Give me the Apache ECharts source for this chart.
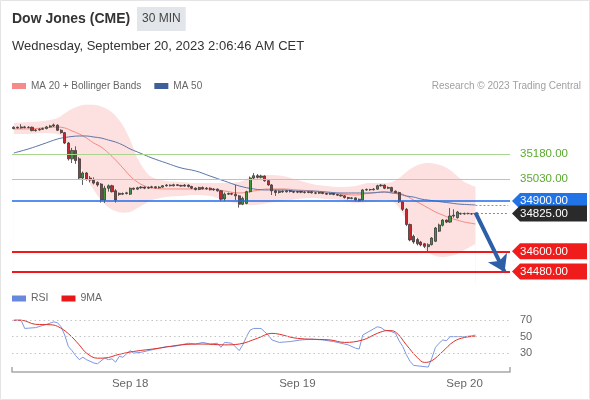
<!DOCTYPE html>
<html><head><meta charset="utf-8">
<script src="https://cdn.jsdelivr.net/npm/echarts@6/dist/echarts.min.js"></script>
<style>html,body{margin:0;padding:0;background:#fff}#c{width:590px;height:400px}</style>
</head><body><div id="c"></div>
<script>
// ---------- DATA ----------
const slotCount = 137;
const tickIndex = [32, 78, 124];
const tickLabels = ['Sep 18', 'Sep 19', 'Sep 20'];

// 30-minute candles: [open, close, low, high]
const candles = [
[35330,35338,35326,35344],[35338,35334,35330,35342],[35334,35340,35330,35356],[35340,35336,35332,35346],
[35336,35338,35332,35344],[35338,35318,35314,35342],[35318,35322,35312,35328],[35322,35326,35318,35332],
[35326,35330,35322,35336],[35330,35340,35326,35346],[35340,35346,35336,35352],[35346,35352,35340,35360],
[35350,35320,35316,35356],[35320,35306,35300,35326],[35306,35244,35238,35310],[35244,35150,35140,35250],
[35150,35200,35125,35215],[35200,35140,35120,35225],[35150,35036,35030,35160],[35036,35066,34995,35075],
[35066,35030,35020,35072],[35036,35024,35010,35048],[35024,35006,34998,35040],[35010,34995,34985,35016],
[35000,34905,34890,35006],[34905,34975,34888,34990],[34975,34990,34955,34998],[34990,34955,34950,34996],
[34960,34905,34890,34970],[34945,34938,34930,34950],[34940,34944,34935,34950],[34944,34948,34938,34954],
[34940,34975,34935,34980],[34975,34970,34964,34980],[34970,34978,34966,34984],[34978,34982,34972,34988],
[34982,34976,34970,34986],[34976,34980,34972,34986],[34980,34984,34975,34990],[34984,34978,34974,34988],
[34978,34982,34974,34988],[34982,34990,34978,34994],[34990,34994,34985,35000],[34994,34990,34986,34998],
[34990,34996,34986,35002],[34996,34992,34988,35000],[34992,34988,34984,34996],[34988,34994,34984,35000],
[34994,34986,34980,34998],[34986,34976,34970,34990],[34976,34968,34962,34980],[34968,34980,34964,34984],
[34980,34972,34968,34986],[34972,34976,34966,34982],[34976,34966,34962,34980],[34966,34970,34960,34976],
[34970,34960,34955,34974],[34960,34910,34900,34964],[34912,34940,34900,34950],[34940,34944,34935,34950],
[34944,34940,34934,34948],[34940,34930,34905,34995],[34930,34880,34860,34935],[34880,34915,34875,34925],
[34885,34955,34880,34960],[34955,35036,34950,35045],[35036,35050,35030,35066],[35050,35040,35034,35060],
[35040,35048,35034,35056],[35048,35020,35014,35052],[35020,34995,34990,35024],[34995,34960,34935,35000],
[34960,34950,34930,34966],[34950,34958,34944,34962],[34958,34954,34948,34962],[34954,34960,34950,34964],
[34960,34956,34950,34964],[34956,34952,34946,34960],[34952,34956,34946,34960],[34956,34952,34946,34960],
[34952,34950,34944,34958],[34950,34954,34946,34958],[34954,34948,34944,34958],[34948,34946,34940,34952],
[34946,34950,34942,34954],[34950,34944,34940,34954],[34944,34940,34935,34948],[34940,34944,34936,34948],
[34944,34938,34934,34948],[34938,34934,34930,34942],[34934,34930,34925,34938],[34930,34920,34914,34934],
[34920,34915,34908,34924],[34915,34918,34910,34922],[34918,34905,34898,34922],[34910,34900,34894,34914],
[34905,34965,34900,34970],[34965,34968,34960,34974],[34968,34966,34960,34972],[34966,34970,34962,34976],
[34970,34990,34966,34996],[34990,34994,34985,35000],[34994,34975,34970,34998],[34975,34980,34970,34986],
[34980,34958,34952,34984],[34958,34950,34946,34962],[34950,34895,34888,34955],[34895,34850,34840,34900],
[34850,34760,34750,34858],[34760,34668,34660,34765],[34690,34656,34645,34700],[34670,34645,34635,34680],
[34655,34638,34630,34662],[34645,34630,34620,34650],[34628,34640,34596,34648],[34640,34679,34635,34685],
[34660,34739,34655,34745],[34720,34757,34715,34765],[34755,34786,34748,34792],[34786,34774,34768,34790],
[34774,34810,34770,34858],[34810,34815,34800,34850],[34800,34834,34795,34840],[34826,34822,34818,34830],
[34822,34826,34818,34830],[34826,34824,34820,34830],[34824,34822,34818,34828],[34822,34825,34818,34830]
];

// Indicator readings (candle index -> value)
const bandIdx = [0,4,8,12,14,16,18,20,22,24,26,28,30,32,34,36,38,42,46,50,54,58,62,66,70,74,78,82,86,90,94,98,102,104,106,108,110,112,114,116,118,120,122,124,127];
const bbUpper = [35363,35369,35375,35393,35420,35446,35464,35472,35472,35462,35442,35405,35348,35262,35155,35084,35042,35018,35012,35006,35006,35006,35012,35048,35054,35048,35024,35001,34989,34983,34989,35006,35006,35012,35036,35072,35102,35119,35125,35119,35108,35084,35048,35012,34983];
const ma20 = [35328,35328,35334,35339,35334,35316,35298,35274,35244,35221,35185,35143,35096,35048,35012,34989,34977,34971,34971,34971,34971,34959,34947,34959,34971,34971,34965,34959,34947,34941,34935,34947,34953,34953,34947,34929,34905,34882,34858,34834,34816,34798,34786,34774,34763];
const bbLower = [35298,35298,35304,35298,35262,35191,35113,35036,34965,34905,34862,34840,34830,34834,34858,34882,34905,34923,34929,34935,34929,34905,34882,34876,34888,34899,34911,34917,34911,34905,34888,34893,34905,34899,34858,34786,34709,34644,34596,34572,34566,34572,34584,34608,34644];
const ma50 = [35185,35209,35238,35268,35277,35283,35286,35286,35280,35274,35262,35250,35232,35209,35191,35173,35155,35125,35096,35078,35048,35018,34989,34971,34965,34965,34959,34959,34953,34947,34947,34947,34953,34947,34941,34929,34923,34911,34905,34899,34893,34888,34882,34879,34876];

const rsiIdx = [0,2,3,6,9,11,12,13,14,15,16,17,18,19,20,22,23,25,26,27,28,29,30,32,33,35,38,40,42,44,46,48,50,52,54,56,57,58,60,62,63,64,65,66,68,69,70,71,73,76,79,82,85,88,90,92,94,95,96,98,100,101,102,104,105,106,107,108,109,110,112,114,115,116,117,118,119,120,122,124,126,127];
const rsiVal = [70,70,60,61,65,68,67,62,52,38,33,27,22,25,22,18,17,24,22,23,19,26,25,33,30,31,34,36,38,38,40,42,41,43,41,42,37,43,42,33,40,50,58,60,60,56,52,46,43,44,46,47,46,44,42,40,36,35,52,57,62,61,58,56,54,45,38,28,20,15,14,13,24,37,42,46,45,50,50,50,51,52];
const rsiMaIdx = [0,2,6,10,12,15,18,20,23,25,29,33,40,46,52,58,62,67,71,73,77,81,87,91,96,100,103,105,108,111,113,115,118,121,124,127];
const rsiMaVal = [70,70,65,64.5,62.6,53.7,40,30,23.8,24,28.5,32,36,40,41,40,41,48,54,53,48.6,47,46,43,46,54,57.5,55.6,40,24.6,18.7,20.7,32,44,49,50.5];
const rsiLevels = [30, 50, 70];

// Key price levels and forecast arrow
const levelPrices = [35180, 35030, 34900, 34825, 34600, 34480];
const levelKinds = ['green', 'green', 'blue', 'dark', 'red', 'red'];
const arrowFrom = [127.4, 34830];
const arrowTo = [134.6, 34478];

// ---------- CHART ----------
const FONT = '"Liberation Sans", Arial, Helvetica, sans-serif';
const chart = echarts.init(document.getElementById('c'), null, {renderer: 'canvas', width: 590, height: 400});
const categories = Array.from({length: slotCount}, (_, i) => String(i));
const pairs = (idx, vals) => idx.map((k, j) => [k, vals[j]]);
const lastIdx = candles.length - 1;
const lastMa50 = ma50[ma50.length - 1];

const kindStyle = {
  green: {line: '#abd48f', width: 1, tag: 'transparent', text: '#5caa30'},
  blue:  {line: '#1f6be8', width: 1.5, tag: '#2173e6', text: '#ffffff'},
  dark:  {line: null, width: 1, tag: '#2a2a2a', text: '#ffffff'},
  red:   {line: '#f01818', width: 2, tag: '#f01c1c', text: '#ffffff'}
};
const tagPath = 'path://M0,8 L8,0 L75,0 L75,16 L8,16 Z';

const levelLines = [];
const levelTags = [];
levelPrices.forEach((p, i) => {
  const s = kindStyle[levelKinds[i]];
  if (s.line) {
    levelLines.push([
      {coord: [0, p], x: 12, lineStyle: {color: s.line, width: s.width, type: 'solid'}},
      {coord: [slotCount - 1, p], x: 510}
    ]);
  } else {
    levelLines.push([{coord: [lastIdx - 4, p], lineStyle: {color: '#8a8a8a', width: 1, type: [2, 2]}}, {coord: [slotCount - 1, p]}]);
  }
  levelTags.push({
    coord: [0, p], x: 549.5, symbol: tagPath, symbolSize: [75, 16], symbolKeepAspect: false,
    itemStyle: {color: s.tag},
    label: {show: true, position: 'insideLeft', distance: 8, color: s.text, fontSize: 11.5, fontFamily: FONT, formatter: p.toFixed(2)}
  });
});
levelLines.push([{coord: [lastIdx, lastMa50], lineStyle: {color: '#8896b8', width: 1, type: [2, 2]}}, {coord: [slotCount - 1, lastMa50]}]);
levelLines.push([{coord: arrowFrom, symbol: 'none', lineStyle: {color: '#2d5ea8', width: 4, type: 'solid'}}, {coord: arrowTo, symbol: 'arrow', symbolSize: 16}]);

const option = {
  animation: false,
  backgroundColor: '#ffffff',
  textStyle: {fontFamily: FONT},
  graphic: [
    {type: 'rect', shape: {x: 0.5, y: 0.5, width: 589, height: 399}, style: {fill: 'none', stroke: '#e4e4e4', lineWidth: 1}, z: 100}
  ],
  title: [
    {text: 'Dow Jones (CME)', left: 12, top: 12, padding: 0, textStyle: {fontSize: 14, fontWeight: 'bold', color: '#333', fontFamily: FONT}},
    {text: '30 MIN', left: 137, top: 7, padding: [6, 5], backgroundColor: '#e2e5e9', textStyle: {fontSize: 12, fontWeight: 'normal', color: '#444', fontFamily: FONT}},
    {text: 'Wednesday, September 20, 2023 2:06:46 AM CET', left: 12, top: 40, padding: 0, textStyle: {fontSize: 13, fontWeight: 'normal', color: '#333', fontFamily: FONT}},
    {text: 'Research \u00a9 2023 Trading Central', right: 9, top: 81, padding: 0, textStyle: {fontSize: 10, fontWeight: 'normal', color: '#a0a0a0', fontFamily: FONT}}
  ],
  legend: [
    {data: ['MA 20 + Bollinger Bands', 'MA 50'], left: 12, top: 81, padding: 0, icon: 'rect', itemWidth: 14, itemHeight: 6, itemGap: 13, textStyle: {fontSize: 10, color: '#666', fontFamily: FONT}},
    {data: ['RSI', '9MA'], left: 12, top: 293, padding: 0, icon: 'rect', itemWidth: 14, itemHeight: 6, itemGap: 13, textStyle: {fontSize: 10.5, color: '#666', fontFamily: FONT}}
  ],
  grid: [
    {left: 12, right: 80, top: 100, height: 185},
    {left: 12, right: 80, top: 312, height: 60}
  ],
  xAxis: [
    {type: 'category', gridIndex: 0, data: categories, boundaryGap: true, show: false},
    {type: 'category', gridIndex: 1, data: categories, boundaryGap: true,
     axisLine: {show: true, lineStyle: {color: '#a8a8a8', width: 1.5}},
     axisTick: {show: true, inside: true, length: 5, interval: (i) => i === 0, lineStyle: {color: '#a8a8a8', width: 1.5}},
     axisLabel: {show: true, color: '#666', fontSize: 11.5, margin: 6, fontFamily: FONT,
       interval: (i) => tickIndex.includes(i),
       formatter: (v, i) => { const k = tickIndex.indexOf(Number(v)); return k >= 0 ? tickLabels[k] : ''; }},
     splitLine: {show: false}}
  ],
  yAxis: [
    {type: 'value', gridIndex: 0, min: 34400, max: 35500, show: false, splitLine: {show: false}},
    {type: 'value', gridIndex: 1, min: 7, max: 80, position: 'right',
     axisLine: {show: false}, axisTick: {show: false}, splitLine: {show: false},
     axisLabel: {show: true, customValues: rsiLevels, color: '#666', fontSize: 11, margin: 10, fontFamily: FONT}}
  ],
  series: [
    {name: 'bbUpper', type: 'line', xAxisIndex: 0, yAxisIndex: 0, data: pairs(bandIdx, bbUpper), smooth: 0.4, symbol: 'none',
     lineStyle: {width: 0}, areaStyle: {color: '#fde0e0', opacity: 1, origin: 'start'}, z: 1, silent: true},
    {name: 'bbLower', type: 'line', xAxisIndex: 0, yAxisIndex: 0, data: pairs(bandIdx, bbLower), smooth: 0.4, symbol: 'none',
     lineStyle: {width: 0}, areaStyle: {color: '#ffffff', opacity: 1, origin: 'start'}, z: 1, silent: true},
    {name: 'MA 20 + Bollinger Bands', type: 'line', xAxisIndex: 0, yAxisIndex: 0, data: pairs(bandIdx, ma20), smooth: 0.4, symbol: 'none',
     color: '#f48a8a', lineStyle: {color: '#f28b82', width: 1}, z: 2},
    {name: 'MA 50', type: 'line', xAxisIndex: 0, yAxisIndex: 0, data: pairs(bandIdx, ma50), smooth: 0.4, symbol: 'none',
     color: '#3f5f9a', lineStyle: {color: '#5a76aa', width: 1}, z: 2},
    {name: 'price', type: 'candlestick', xAxisIndex: 0, yAxisIndex: 0, data: candles, barWidth: 2.6, z: 3,
     itemStyle: {color: '#3f963a', color0: '#c8262c', borderColor: '#3a3a3a', borderColor0: '#3a3a3a', borderWidth: 0.8},
     markLine: {silent: true, symbol: 'none', z: 5, label: {show: false}, data: levelLines},
     markPoint: {silent: true, z: 6, data: levelTags}},
    {name: 'RSI', type: 'line', xAxisIndex: 1, yAxisIndex: 1, data: pairs(rsiIdx, rsiVal), symbol: 'none',
     color: '#6688dd', lineStyle: {color: '#7d98e4', width: 1}, z: 3,
     markLine: {silent: true, symbol: 'none', label: {show: false}, lineStyle: {color: '#c4c4c4', width: 1, type: [1.5, 3]},
       data: rsiLevels.map(v => ({yAxis: v}))}},
    {name: '9MA', type: 'line', xAxisIndex: 1, yAxisIndex: 1, data: pairs(rsiMaIdx, rsiMaVal), smooth: 0.4, symbol: 'none',
     color: '#e81818', lineStyle: {color: '#e0302a', width: 1}, z: 4}
  ]
};
chart.setOption(option);
</script>
</body></html>
